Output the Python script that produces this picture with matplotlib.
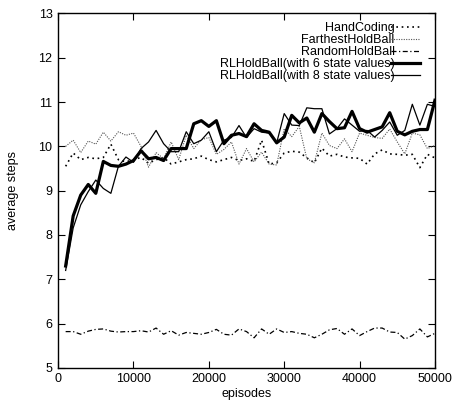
import matplotlib
matplotlib.use("Agg")
import matplotlib.pyplot as plt

plt.rcParams['font.family'] = ['Liberation Sans', 'DejaVu Sans']

# DATA (one point per 1000 episodes)
episodes = list(range(1000, 50001, 1000))

hand_coding = [9.55, 9.85, 9.70, 9.75, 9.72, 9.75, 10.05, 9.70, 9.65, 9.70,
               9.75, 9.62, 9.70, 9.75, 9.60, 9.65, 9.70, 9.72, 9.78, 9.70,
               9.65, 9.70, 9.75, 9.68, 9.72, 9.66, 10.14, 9.60, 9.63, 9.85,
               9.89, 9.87, 9.74, 9.63, 9.96, 9.78, 9.82, 9.76, 9.74, 9.73,
               9.60, 9.83, 9.92, 9.83, 9.82, 9.80, 9.82, 9.52, 9.82, 9.74]

farthest = [10.00, 10.14, 9.86, 10.12, 10.05, 10.32, 10.12, 10.33, 10.25, 10.30,
            10.00, 9.53, 9.86, 9.72, 10.10, 9.70, 10.25, 9.95, 10.15, 10.20,
            9.82, 9.93, 10.10, 9.60, 9.95, 9.65, 9.87, 9.60, 9.58, 10.40,
            10.22, 10.45, 9.72, 9.63, 10.30, 10.02, 9.95, 10.17, 9.88, 10.30,
            10.25, 10.20, 10.18, 10.39, 10.10, 9.83, 10.30, 10.26, 9.95, 10.02]

random_hold = [5.82, 5.82, 5.76, 5.83, 5.87, 5.88, 5.83, 5.81, 5.82, 5.82,
               5.84, 5.81, 5.90, 5.76, 5.84, 5.74, 5.80, 5.78, 5.76, 5.80,
               5.87, 5.76, 5.74, 5.88, 5.82, 5.68, 5.88, 5.76, 5.88, 5.80,
               5.82, 5.78, 5.76, 5.68, 5.76, 5.86, 5.89, 5.76, 5.88, 5.73,
               5.82, 5.90, 5.90, 5.81, 5.80, 5.65, 5.73, 5.88, 5.70, 5.78]

rl6 = [7.30, 8.43, 8.90, 9.14, 8.94, 9.66, 9.57, 9.55, 9.60, 9.68,
       9.90, 9.72, 9.75, 9.68, 9.95, 9.95, 9.95, 10.51, 10.58, 10.45,
       10.58, 10.06, 10.25, 10.29, 10.22, 10.51, 10.36, 10.32, 10.08, 10.21,
       10.70, 10.53, 10.64, 10.32, 10.74, 10.56, 10.40, 10.42, 10.79, 10.40,
       10.32, 10.38, 10.44, 10.76, 10.34, 10.26, 10.34, 10.38, 10.38, 11.04]

rl8 = [7.20, 8.16, 8.68, 8.98, 9.24, 9.05, 8.94, 9.55, 9.76, 9.64,
       9.95, 10.10, 10.36, 10.06, 9.88, 9.88, 10.33, 10.06, 10.14, 10.33,
       9.88, 10.14, 10.20, 10.47, 10.20, 10.40, 10.32, 10.30, 10.08, 10.74,
       10.48, 10.47, 10.87, 10.85, 10.85, 10.28, 10.40, 10.62, 10.48, 10.34,
       10.36, 10.21, 10.36, 10.55, 10.25, 10.36, 10.95, 10.48, 10.95, 10.90]

fig = plt.figure(figsize=(4.54, 4.07), dpi=100)
ax = fig.add_axes([0.128, 0.096, 0.830, 0.871])

ax.plot(episodes, hand_coding, color='black', lw=1.2, ls=(0, (1, 2.2)), label='HandCoding')
ax.plot(episodes, farthest, color='#555555', lw=0.8, ls=(0, (1, 1.2)), label='FarthestHoldBall')
ax.plot(episodes, random_hold, color='black', lw=0.9, ls=(0, (4, 2, 1, 2)), label='RandomHoldBall')
ax.plot(episodes, rl6, color='black', lw=2.3, label='RLHoldBall(with 6 state values)')
ax.plot(episodes, rl8, color='black', lw=0.9, label='RLHoldBall(with 8 state values)')

ax.set_xlim(0, 50000)
ax.set_ylim(5, 13)
ax.set_xticks(range(0, 50001, 10000))
ax.set_yticks(range(5, 14))
ax.tick_params(direction='in', length=5, width=0.8, top=True, right=True,
               labelsize=9, pad=4)
for s in ax.spines.values():
    s.set_linewidth(1.0)

ax.set_xlabel('episodes', fontsize=9, labelpad=2)
ax.set_ylabel('average steps', fontsize=9, labelpad=14)

leg = ax.legend(loc='upper right', markerfirst=False, frameon=False, fontsize=9,
                handlelength=2.3, handletextpad=-0.25, labelspacing=0.0,
                borderaxespad=0.3, bbox_to_anchor=(0.984, 1.0))

fig.savefig('out.png', dpi=100)
